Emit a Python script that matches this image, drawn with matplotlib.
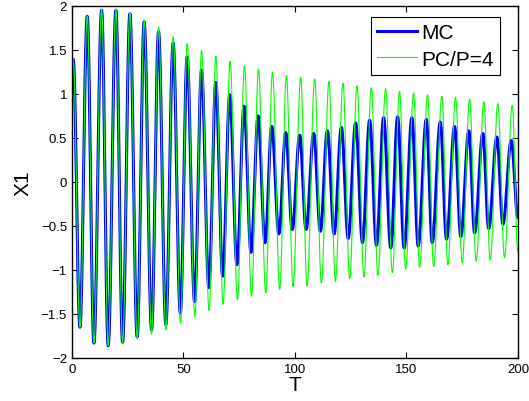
import numpy as np
import matplotlib
matplotlib.use('Agg')
import matplotlib.pyplot as plt

plt.rcParams['font.family'] = ['Liberation Sans', 'DejaVu Sans']

# values (T, X1) at the turning points of each curve
t_start, t_end = 0.0, 200.0

# PC/P=4 (green)
pc_start, pc_end = 1.0, -0.80
pc_peak_t = [0.58, 6.85, 13.31, 19.71, 25.99, 32.39, 38.84, 45.39, 51.66, 58.11,
             64.52, 70.92, 77.37, 83.65, 89.92, 96.19, 102.60, 108.87, 115.28, 121.55,
             127.82, 134.27, 140.68, 146.95, 153.23, 159.50, 165.91, 172.04, 178.32,
             184.72, 191.00, 197.45]
pc_peak_v = [1.39, 1.88, 1.96, 1.96, 1.92, 1.84, 1.76, 1.65, 1.57, 1.49,
             1.43, 1.37, 1.32, 1.28, 1.25, 1.21, 1.19, 1.17, 1.14, 1.12,
             1.09, 1.07, 1.06, 1.03, 1.01, 0.99, 0.97, 0.96, 0.94,
             0.91, 0.89, 0.87]
pc_trough_t = [3.58, 9.86, 16.26, 22.72, 29.26, 35.71, 42.11, 48.70, 55.11, 61.51,
               67.79, 74.24, 80.51, 86.92, 93.19, 99.15, 105.42, 111.87, 118.15, 124.55,
               130.96, 137.23, 143.68, 149.64, 155.91, 162.19, 168.59, 175.04, 181.32,
               187.59, 193.99]
pc_trough_v = [-1.65, -1.83, -1.86, -1.83, -1.78, -1.73, -1.68, -1.61, -1.53, -1.46,
               -1.39, -1.34, -1.30, -1.26, -1.22, -1.19, -1.18, -1.15, -1.13, -1.10,
               -1.08, -1.06, -1.03, -0.99, -0.97, -0.96, -0.94, -0.92, -0.90,
               -0.89, -0.86]

# MC (blue)
mc_start, mc_end = 1.0, -0.40
mc_peak_t = [0.58, 6.85, 13.31, 19.71, 25.99, 32.39, 38.84, 45.39, 51.66, 58.11,
             64.52, 70.79, 77.20, 83.47, 89.61, 95.88, 102.15, 108.42, 114.56, 120.83,
             127.24, 133.51, 139.78, 146.06, 152.46, 158.92, 165.19, 171.60, 178.00,
             184.27, 190.55, 197.00]
mc_peak_v = [1.39, 1.88, 1.95, 1.95, 1.91, 1.82, 1.71, 1.58, 1.42, 1.27,
             1.13, 0.99, 0.86, 0.75, 0.63, 0.56, 0.53, 0.55, 0.58, 0.62,
             0.67, 0.70, 0.73, 0.74, 0.73, 0.71, 0.68, 0.63, 0.58,
             0.55, 0.51, 0.47]
mc_trough_t = [3.58, 9.86, 16.26, 22.72, 29.26, 35.71, 42.11, 48.60, 55.00, 61.40,
               67.60, 74.00, 80.30, 86.60, 92.80, 98.80, 105.00, 111.40, 117.60, 123.90,
               130.30, 136.60, 143.00, 149.00, 155.30, 161.60, 168.00, 174.40, 180.60,
               186.90, 193.30]
mc_trough_v = [-1.65, -1.83, -1.86, -1.82, -1.76, -1.68, -1.62, -1.49, -1.36, -1.20,
               -1.07, -0.94, -0.80, -0.69, -0.59, -0.54, -0.54, -0.56, -0.59, -0.64,
               -0.69, -0.72, -0.75, -0.75, -0.73, -0.69, -0.65, -0.62, -0.58,
               -0.53, -0.48]


def trace(v0, v1, pk_t, pk_v, tr_t, tr_v, n=40):
    # smooth half-cosine segments through the turning points
    pts = sorted([(t_start, v0), (t_end, v1)] + list(zip(pk_t, pk_v)) + list(zip(tr_t, tr_v)))
    ts, vs = [], []
    for (ta, va), (tb, vb) in zip(pts[:-1], pts[1:]):
        s = np.linspace(0, 1, n, endpoint=False)
        ts.append(ta + (tb - ta) * s)
        vs.append(va + (vb - va) * (1 - np.cos(np.pi * s)) / 2)
    ts.append([pts[-1][0]])
    vs.append([pts[-1][1]])
    return np.concatenate(ts), np.concatenate(vs)


fig = plt.figure(figsize=(5.29, 4.02), dpi=100)
ax = fig.add_axes([0.136, 0.107, 0.843, 0.876])

t_mc, x_mc = trace(mc_start, mc_end, mc_peak_t, mc_peak_v, mc_trough_t, mc_trough_v)
t_pc, x_pc = trace(pc_start, pc_end, pc_peak_t, pc_peak_v, pc_trough_t, pc_trough_v)

ax.plot(t_mc, x_mc, color='#0000ff', linewidth=2.2, label='MC')
ax.plot(t_pc, x_pc, color='#00ff00', linewidth=0.8, label='PC/P=4')

ax.set_xlim(0, 200)
ax.set_ylim(-2, 2)
ax.set_xticks([0, 50, 100, 150, 200])
ax.set_yticks([-2, -1.5, -1, -0.5, 0, 0.5, 1, 1.5, 2])
ax.set_yticklabels(['\u22122', '\u22121.5', '\u22121', '\u22120.5', '0', '0.5', '1', '1.5', '2'])
ax.tick_params(direction='in', top=True, right=True, labelsize=9.5, length=4, width=0.8)
for sp in ax.spines.values():
    sp.set_linewidth(1.0)

ax.set_xlabel('T', fontsize=15, labelpad=0)
ax.set_ylabel('X1', fontsize=15, labelpad=6)

leg = ax.legend(loc='upper right', bbox_to_anchor=(0.9596, 0.968), fontsize=15,
                fancybox=False, framealpha=1, edgecolor='black', borderpad=0.3,
                handlelength=1.9, handletextpad=0.2, labelspacing=0.35, borderaxespad=0)
leg.get_frame().set_linewidth(0.8)

plt.savefig('out.png', dpi=100)
